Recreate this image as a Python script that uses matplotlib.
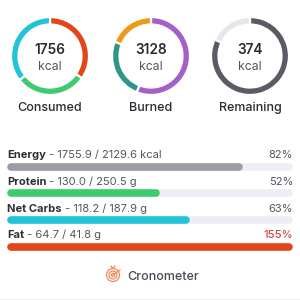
import matplotlib
matplotlib.use('Agg')
import matplotlib.pyplot as plt
from matplotlib.patches import Circle

# 字体
plt.rcParams['font.family'] = ['Inter', 'DejaVu Sans']

# ---- 数据 ----
ring_names = ['Consumed', 'Burned', 'Remaining']
ring_totals = ['1756', '3128', '374']
consumed_parts = [0.347, 0.297, 0.356]
consumed_colors = ['#E2461A', '#3DCB6F', '#22C3D6']
burned_parts = [0.56, 0.25, 0.19]
burned_colors = ['#A55FC9', '#2E9688', '#EE9A14']
remaining_parts = [0.82, 0.18]
remaining_colors = ['#5B5B66', '#E6E6EA']

nutrients = ['Energy', 'Protein', 'Net Carbs', 'Fat']
amounts = ['1755.9 / 2129.6 kcal', '130.0 / 250.5 g', '118.2 / 187.9 g', '64.7 / 41.8 g']
percents = [82, 52, 63, 155]
bar_colors = ['#9C9CA6', '#3DCB6F', '#22C3D6', '#E2461A']

fig = plt.figure(figsize=(3, 3), dpi=100)
ax = fig.add_axes([0, 0, 1, 1])

# 环形图
centers_x = [50, 151, 250]
cy = 300 - 56
ring_data = [(consumed_parts, consumed_colors), (burned_parts, burned_colors),
             (remaining_parts, remaining_colors)]
for i, (parts, cols) in enumerate(ring_data):
    ax.pie(parts, colors=cols, startangle=90, counterclock=False,
           center=(centers_x[i], cy), radius=39,
           wedgeprops=dict(width=7.5, edgecolor='white', linewidth=1.6))
    ax.text(centers_x[i], 300 - 50, ring_totals[i], ha='center', va='center',
            fontsize=9.8, fontweight='semibold', color='#2A2A33')
    ax.text(centers_x[i], 300 - 67, 'kcal', ha='center', va='center',
            fontsize=8.8, color='#55555E')
    ax.text(centers_x[i], 300 - 108, ring_names[i], ha='center', va='center',
            fontsize=9, fontweight='medium', color='#2A2A33')

# 进度条
label_base = [158.3, 185, 211.5, 237.5]
bar_y = [167, 193, 220, 247]
x0, x1 = 7, 293
lw = 7.6 * 72 / 100
r = 3.8
for i, name in enumerate(nutrients):
    yb = 300 - label_base[i]
    t = ax.text(x0, yb, name, ha='left', va='baseline', fontsize=8,
                fontweight='bold', color='#2E2E36')
    ax.annotate(' - ' + amounts[i], xy=(1, 0), xycoords=t, va='bottom',
                ha='left', fontsize=8, color='#55555E')
    pct_col = '#D0474A' if percents[i] > 100 else '#55555E'
    ax.text(x1, yb, '%d%%' % percents[i], ha='right', va='baseline', fontsize=8,
            color=pct_col, fontweight='medium' if percents[i] > 100 else 'normal')
    y = 300 - bar_y[i]
    ax.plot([x0 + r, x1 - r], [y, y], color='#ECEEF6', lw=lw,
            solid_capstyle='round')
    frac = min(percents[i], 100) / 100.0
    ax.plot([x0 + r, x0 + r + frac * (x1 - x0 - 2 * r)], [y, y],
            color=bar_colors[i], lw=lw, solid_capstyle='round')

# Logo
lx, ly = 113, 300 - 275
for rad in [6.5, 4.0, 1.6]:
    ax.add_patch(Circle((lx, ly), rad, fill=False, ec='#EE8A5C', lw=0.9))
ax.plot([lx, lx + 7], [ly, ly + 5], color='#EE8A5C', lw=0.9)
ax.plot([lx - 2, lx, lx + 2], [ly + 9, ly + 6.5, ly + 9], color='#EE8A5C', lw=0.9)
ax.text(127, 300 - 277, 'Cronometer', ha='left', va='center', fontsize=9,
        fontweight='medium', color='#4A4A55')
ax.plot([0, 300], [1.5, 1.5], color='#EEEEF0', lw=0.8)

ax.set_xlim(0, 300)
ax.set_ylim(0, 300)
ax.set_aspect('auto')
ax.axis('off')
fig.savefig('out.png', dpi=100, facecolor='white')
